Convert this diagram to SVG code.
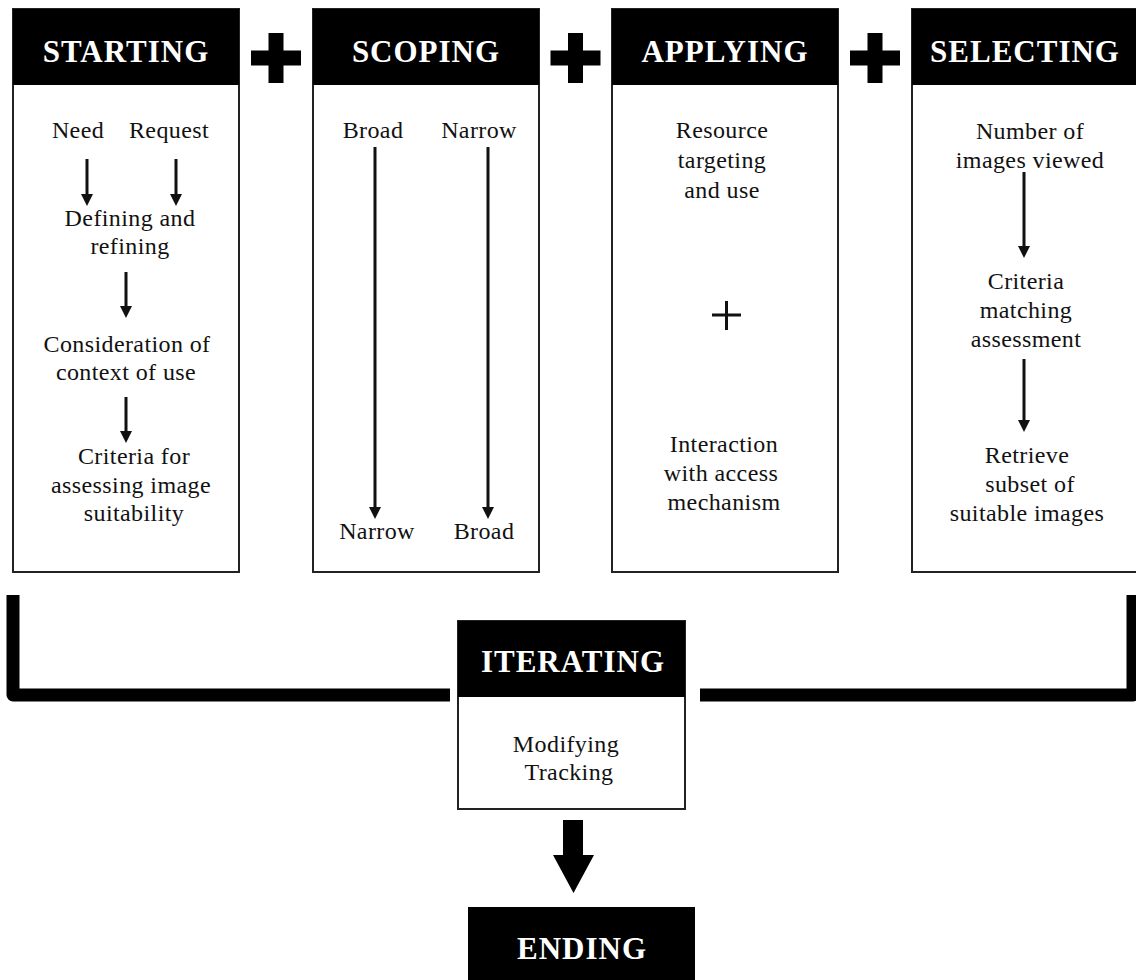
<svg xmlns="http://www.w3.org/2000/svg" width="1136" height="980" viewBox="0 0 1136 980">
  <style>
    .box { fill: #ffffff; stroke: #222222; stroke-width: 2; }
    .head { fill: #000000; }
    .title { font-family: "Liberation Serif", "Times New Roman", serif; font-weight: bold; font-size: 31px; fill: #ffffff; text-anchor: middle; letter-spacing: 1px; }
    .body { font-family: "Liberation Serif", "Times New Roman", serif; font-size: 24px; fill: #111111; text-anchor: middle; letter-spacing: 0.4px; }
    .thin { stroke: #111111; stroke-width: 3; fill: none; }
    .bracket { stroke: #000000; stroke-width: 13; fill: none; stroke-linejoin: round; }
    .solid { fill: #000000; }
  </style>
  <defs>
    <marker id="tip" viewBox="0 0 12 12" refX="0" refY="6" markerWidth="12" markerHeight="12" markerUnits="userSpaceOnUse" orient="auto">
      <path d="M0,0 L12,6 L0,12 z" fill="#111111"/>
    </marker>
  </defs>

  <rect width="1136" height="980" fill="#ffffff"/>

  <!-- STARTING column -->
  <g id="starting">
    <rect class="box" x="13" y="9" width="226" height="563"/>
    <rect class="head" x="13" y="9" width="226" height="76"/>
    <text class="title" x="126" y="62">STARTING</text>
    <text class="body" x="78" y="138">Need</text>
    <text class="body" x="169" y="138">Request</text>
    <text class="body" x="130" y="226">Defining and</text>
    <text class="body" x="130" y="254">refining</text>
    <text class="body" x="127" y="352">Consideration of</text>
    <text class="body" x="126" y="380">context of use</text>
    <text class="body" x="134" y="464">Criteria for</text>
    <text class="body" x="131" y="493">assessing image</text>
    <text class="body" x="134" y="521">suitability</text>
  </g>

  <!-- SCOPING column -->
  <g id="scoping">
    <rect class="box" x="313" y="9" width="226" height="563"/>
    <rect class="head" x="313" y="9" width="226" height="76"/>
    <text class="title" x="426" y="62">SCOPING</text>
    <text class="body" x="373" y="138">Broad</text>
    <text class="body" x="479" y="138">Narrow</text>
    <text class="body" x="377" y="539">Narrow</text>
    <text class="body" x="484" y="539">Broad</text>
  </g>

  <!-- APPLYING column -->
  <g id="applying">
    <rect class="box" x="612" y="9" width="226" height="563"/>
    <rect class="head" x="612" y="9" width="226" height="76"/>
    <text class="title" x="725" y="62">APPLYING</text>
    <text class="body" x="722" y="138">Resource</text>
    <text class="body" x="722" y="168">targeting</text>
    <text class="body" x="722" y="198">and use</text>
    <path class="thin" d="M712,315 H741 M726.5,301 V330"/>
    <text class="body" x="724" y="452">Interaction</text>
    <text class="body" x="721" y="481">with access</text>
    <text class="body" x="724" y="510">mechanism</text>
  </g>

  <!-- SELECTING column -->
  <g id="selecting">
    <rect class="box" x="912" y="9" width="226" height="563"/>
    <rect class="head" x="912" y="9" width="226" height="76"/>
    <text class="title" x="1025" y="62">SELECTING</text>
    <text class="body" x="1030" y="139">Number of</text>
    <text class="body" x="1030" y="168">images viewed</text>
    <text class="body" x="1026" y="289">Criteria</text>
    <text class="body" x="1026" y="318">matching</text>
    <text class="body" x="1026" y="347">assessment</text>
    <text class="body" x="1027" y="463">Retrieve</text>
    <text class="body" x="1030" y="492">subset of</text>
    <text class="body" x="1027" y="521">suitable images</text>
  </g>

  <!-- plus signs joining the stages -->
  <g id="joins">
    <path class="solid" d="M268.5,33 h15 v17.5 h17.5 v15 h-17.5 v17.5 h-15 v-17.5 h-17.5 v-15 h17.5 z"/>
    <path class="solid" d="M568,33 h15 v17.5 h17.5 v15 h-17.5 v17.5 h-15 v-17.5 h-17.5 v-15 h17.5 z"/>
    <path class="solid" d="M867.5,33 h15 v17.5 h17.5 v15 h-17.5 v17.5 h-15 v-17.5 h-17.5 v-15 h17.5 z"/>
  </g>

  <!-- ITERATING stage -->
  <g id="iterating">
    <rect class="box" x="458" y="621" width="227" height="188"/>
    <rect class="head" x="458" y="621" width="227" height="76"/>
    <text class="title" x="573" y="672">ITERATING</text>
    <text class="body" x="566" y="752">Modifying</text>
    <text class="body" x="569" y="780">Tracking</text>
  </g>

  <!-- ENDING stage -->
  <g id="ending">
    <rect class="head" x="468" y="907" width="227" height="80"/>
    <text class="title" x="582" y="959">ENDING</text>
  </g>

  <!-- connectors -->
  <g id="connectors">
    <!-- starting flow -->
    <line class="thin" x1="87" y1="159" x2="87" y2="194" marker-end="url(#tip)"/>
    <line class="thin" x1="176" y1="159" x2="176" y2="194" marker-end="url(#tip)"/>
    <line class="thin" x1="126" y1="272" x2="126" y2="306" marker-end="url(#tip)"/>
    <line class="thin" x1="126" y1="397" x2="126" y2="431" marker-end="url(#tip)"/>
    <!-- scoping ranges -->
    <line class="thin" x1="375" y1="147" x2="375" y2="507" marker-end="url(#tip)"/>
    <line class="thin" x1="488" y1="147" x2="488" y2="507" marker-end="url(#tip)"/>
    <!-- selecting flow -->
    <line class="thin" x1="1024" y1="172" x2="1024" y2="246" marker-end="url(#tip)"/>
    <line class="thin" x1="1024" y1="359" x2="1024" y2="420" marker-end="url(#tip)"/>
    <!-- feedback bracket into iterating -->
    <path class="bracket" d="M13,595 V695 H450"/>
    <path class="bracket" d="M1133,595 V695 H700"/>
    <!-- iterating to ending -->
    <path class="solid" d="M563,820 H583 V855 H594 L573.5,893 L553,855 H563 z"/>
  </g>
</svg>
